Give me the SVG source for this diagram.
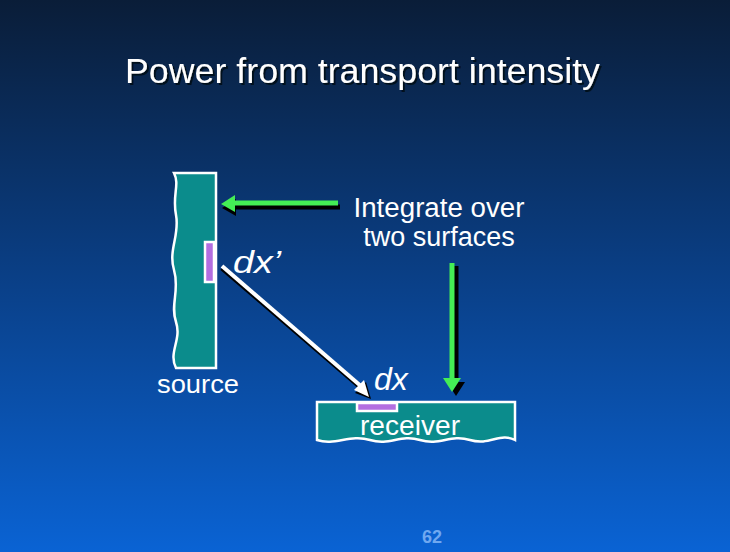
<svg xmlns="http://www.w3.org/2000/svg" width="730" height="552" viewBox="0 0 730 552">
<defs>
<linearGradient id="bg" x1="0" y1="0" x2="0" y2="1">
<stop offset="0" stop-color="#0a1d38"/>
<stop offset="0.5" stop-color="#0a3f86"/>
<stop offset="1" stop-color="#0a63d4"/>
</linearGradient>
<filter id="ds" x="-5%" y="-20%" width="110%" height="150%">
<feDropShadow dx="2" dy="2" stdDeviation="0.5" flood-color="#000814" flood-opacity="0.9"/>
</filter>
<style>
.t{font-family:"Liberation Sans",Arial,sans-serif;fill:#ffffff}
.surf{fill:#0b8c8c;stroke:#ffffff;stroke-width:2.5}
.patch{fill:#b36ee0;stroke:#ffffff;stroke-width:2.5}
.g{stroke:#44ee55;stroke-width:5;fill:none}
.sh{stroke:#000000;stroke-width:5;fill:none}
</style>
</defs>
<rect x="0" y="0" width="730" height="552" fill="url(#bg)"/>
<g id="title">
<text class="t" x="125" y="83" font-size="35" textLength="475" lengthAdjust="spacingAndGlyphs" filter="url(#ds)">Power from transport intensity</text>
</g>
<g id="source">
<path class="surf" d="M216,173 L216,368 L176,368 C168,352 182,340 176,322 C170,305 180,290 174,270 C168,250 180,235 176,215 C172,195 180,185 174,173 Z"/>
<rect class="patch" x="205" y="242" width="9" height="40"/>
<text class="t" x="157" y="393" font-size="26" textLength="82" lengthAdjust="spacingAndGlyphs">source</text>
<text class="t" x="233" y="273" font-size="31" font-style="italic" textLength="48" lengthAdjust="spacingAndGlyphs">dx’</text>
</g>
<g id="receiver">
<path class="surf" d="M317,402 L515,402 L515,440 C500,432 490,446 470,440 C450,434 440,446 420,440 C400,434 390,446 370,440 C350,434 335,446 317,440 Z"/>
<rect class="patch" x="357" y="403" width="40" height="8"/>
<text class="t" x="360" y="435" font-size="27" textLength="100" lengthAdjust="spacingAndGlyphs">receiver</text>
<text class="t" x="374" y="390" font-size="32" font-style="italic">dx</text>
</g>
<g id="note">
<text class="t" x="439" y="217" font-size="27" text-anchor="middle" textLength="171" lengthAdjust="spacingAndGlyphs">Integrate over</text>
<text class="t" x="439" y="246" font-size="27" text-anchor="middle">two surfaces</text>
</g>
<g id="connectors">
<path class="sh" d="M340,207 L232,207"/>
<path d="M222,208 L236,199 L236,216 Z" fill="#000"/>
<path class="g" d="M338,203 L230,203"/>
<path d="M221,204 L235,195 L235,212 Z" fill="#44ee55"/>
<path class="sh" d="M456,266 L456,384"/>
<path d="M456,396 L447,382 L465,382 Z" fill="#000"/>
<path class="g" d="M452,263 L452,380"/>
<path d="M452,392 L443,378 L461,378 Z" fill="#44ee55"/>
<line x1="222" y1="268" x2="364" y2="390" stroke="#000" stroke-width="5"/>
<line x1="222" y1="266" x2="362" y2="387" stroke="#fff" stroke-width="4"/>
<path d="M371,399 L355,393 L366,382 Z" fill="#000"/>
<path d="M369,397 L354,390 L364,380 Z" fill="#fff"/>
</g>
<g id="page">
<text x="432" y="543" font-family="Liberation Sans,Arial,sans-serif" font-size="18" font-weight="bold" fill="#6fa8f0" text-anchor="middle">62</text>
</g>
</svg>
